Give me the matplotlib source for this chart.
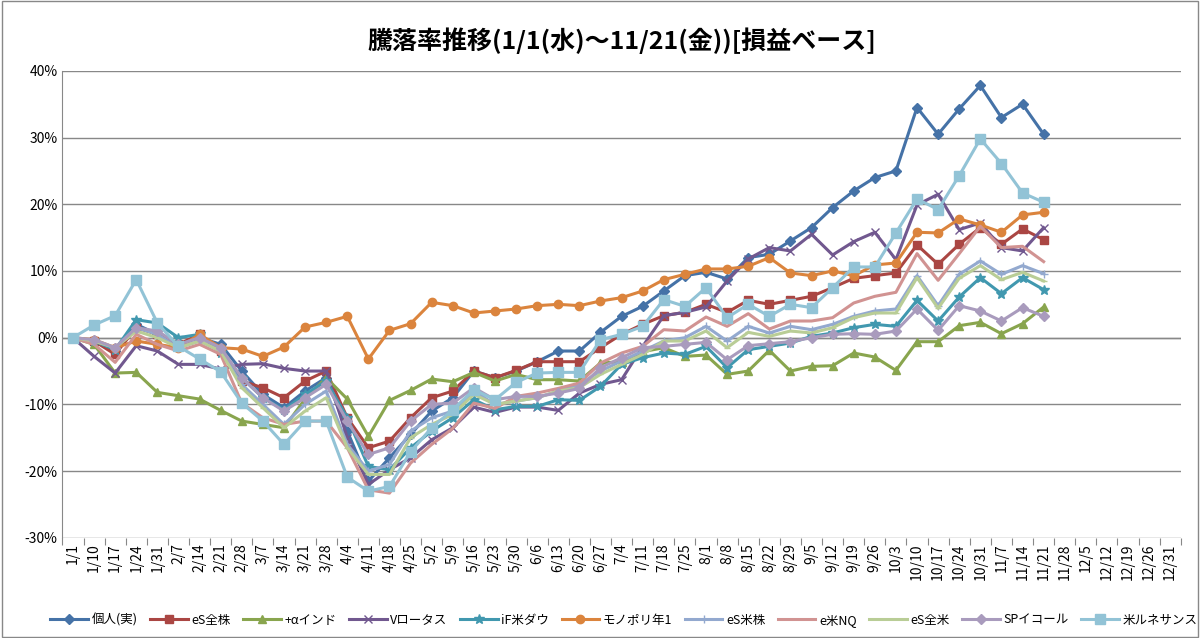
import matplotlib.pyplot as plt
import numpy as np

plt.rcParams['font.family'] = ['Noto Sans CJK JP', 'DejaVu Sans']

dates = ['1/1', '1/10', '1/17', '1/24', '1/31', '2/7', '2/14', '2/21', '2/28', '3/7', '3/14', '3/21', '3/28',
         '4/4', '4/11', '4/18', '4/25', '5/2', '5/9', '5/16', '5/23', '5/30', '6/6', '6/13', '6/20', '6/27',
         '7/4', '7/11', '7/18', '7/25', '8/1', '8/8', '8/15', '8/22', '8/29', '9/5', '9/12', '9/19', '9/26',
         '10/3', '10/10', '10/17', '10/24', '10/31', '11/7', '11/14', '11/21', '11/28', '12/5', '12/12',
         '12/19', '12/26', '12/31']

kojin = [0, -0.5, -2, 2, 0.5, -1, 0, -1, -5, -8.5, -10.5, -8, -6, -14, -21.5, -18, -14.5, -11, -9, -5,
         -6, -5, -3.6, -2, -2, 0.8, 3.2, 4.7, 7, 9.3, 9.8, 8.8, 12, 12.5, 14.5, 16.5, 19.5, 22, 24, 25,
         34.5, 30.5, 34.3, 37.8, 33, 35, 30.5]
es_zenkabu = [0, -0.5, -2.5, 1.5, 0.5, -1, 0.5, -2, -6.5, -7.5, -9, -6.5, -5, -12, -16.5, -15.5, -12, -9, -8, -5,
              -6, -4.9, -3.6, -3.6, -3.6, -1.5, 0.5, 2, 3.3, 3.8, 5, 3.8, 5.6, 5, 5.6, 6.2, 7.5, 8.9, 9.3, 9.7,
              13.9, 11, 14, 16.5, 14, 16.3, 14.7]
alpha_india = [0, -1, -5.3, -5.2, -8.2, -8.7, -9.2, -10.9, -12.5, -13, -13.5, -9.2, -6, -9.2, -14.8, -9.4, -7.9, -6.2, -6.6, -5.2,
               -6.5, -5.5, -6.3, -6.3, -6.5, -3.8, -3.6, -2.1, -1.5, -2.8, -2.6, -5.5, -5, -1.9, -5, -4.3, -4.2, -2.3, -2.9, -4.9,
               -0.6, -0.6, 1.8, 2.3, 0.6, 2.1, 4.6]
v_lotus = [0, -2.8, -5.3, -1.2, -2, -4, -4, -4.7, -4, -3.9, -4.6, -5, -5, -15, -22, -19.8, -18, -15.3, -13.5, -10.4,
           -11.2, -10.4, -10.4, -10.9, -8.3, -7, -6.3, -1.3, 3.3, 3.8, 4.6, 8.5, 11.8, 13.5, 13, 15.5, 12.4, 14.4, 15.8, 11.7,
           19.9, 21.5, 16.2, 17.2, 13.5, 13, 16.5]
if_dow = [0, -0.5, -1.8, 2.7, 2.2, 0, 0.5, -2.3, -6, -9, -10.8, -8.5, -6.5, -12, -19.3, -19.8, -16.5, -14, -12, -9.3,
          -10.8, -10.3, -10.3, -9.3, -9.4, -7.3, -4, -3, -2.3, -2.5, -1.3, -4.5, -1.8, -1.3, -0.8, 0.2, 0.7, 1.5, 2, 1.7,
          5.6, 2.5, 6.1, 9, 6.6, 9, 7.2]
monopoly = [0, -0.3, -1.5, -0.5, -1, -1.5, 0.5, -1.5, -1.7, -2.8, -1.4, 1.6, 2.3, 3.2, -3.2, 1.1, 2.1, 5.3, 4.8, 3.7,
            4, 4.3, 4.8, 5, 4.8, 5.5, 6, 7, 8.7, 9.5, 10.3, 10.3, 10.7, 12, 9.7, 9.3, 10, 9.3, 10.9, 11.2,
            15.8, 15.7, 17.8, 16.9, 15.8, 18.4, 18.8]
es_beikabu = [0, -0.5, -1.5, 1.5, 0.5, -1.5, -0.5, -2, -7, -10, -13, -10, -8, -16, -20, -19, -14, -12, -11, -8,
              -10, -9.5, -9, -8, -7, -5, -3.5, -2, -0.5, 0, 1.7, -0.5, 1.7, 0.7, 1.7, 1.2, 2, 3.2, 4, 4.3,
              9.3, 4.8, 9.5, 11.5, 9.5, 10.8, 9.6]
e_nq = [0, -1, -3.7, 0.5, -1, -2, -1, -2.5, -9.8, -12, -13, -12.5, -12.5, -16.5, -22.8, -23.3, -18.8, -16, -13.6, -9.8,
        -10.6, -8.8, -8.3, -7.6, -6.8, -3.8, -2.3, -1.3, 1.2, 1, 3.1, 1.7, 3.6, 1.3, 2.5, 2.5, 3, 5.2, 6.2, 6.8,
        12.6, 8.6, 12.6, 16.7, 13.5, 13.7, 11.4]
es_zenbei = [0, -0.5, -1.5, 1, 0, -1.5, -0.5, -2, -7.5, -10.5, -13.5, -11, -9, -16.5, -20.5, -20.5, -15, -13, -11.5, -8.5,
             -10, -9.5, -9, -8, -7.5, -5.5, -4, -2.5, -0.5, -0.5, 1, -1.5, 0.8, 0.2, 1, 0.7, 1.5, 3, 3.7, 3.7,
             9, 4.4, 8.9, 10.8, 8.7, 9.8, 8.5]
sp_equal = [0, -0.3, -1.5, 1.5, 1, -1, 0, -1.5, -6, -9, -11, -9, -7, -12.5, -17.5, -16.5, -12.5, -10, -9.8, -7.5,
            -9.3, -8.8, -8.8, -8.3, -7.6, -4.5, -3, -1.5, -1.3, -1, -0.7, -3.3, -1.2, -0.9, -0.6, 0, 0.5, 0.6, 0.5, 1,
            4.3, 1.1, 4.8, 4, 2.5, 4.5, 3.2]
renaissance = [0, 1.9, 3.3, 8.7, 2.2, -1.3, -3.2, -5.1, -9.8, -12.5, -16, -12.5, -12.5, -20.9, -23, -22.3, -17.1, -13.5, -10.8, -7.8,
               -9.3, -6.7, -5.3, -5.2, -5.2, -0.3, 0.5, 1.7, 5.7, 4.7, 7.5, 3, 5, 3.2, 5, 4.5, 7.5, 10.6, 10.6, 15.7,
               20.8, 19.2, 24.3, 29.8, 26.1, 21.7, 20.3]

series = [
    ('個人(実)', kojin, '#4572A7', 'D', 5),
    ('eS全株', es_zenkabu, '#AA4643', 's', 6),
    ('+αインド', alpha_india, '#89A54E', '^', 6),
    ('Vロータス', v_lotus, '#71588F', 'x', 6),
    ('iF米ダウ', if_dow, '#4198AF', '*', 7),
    ('モノポリ年1', monopoly, '#DB843D', 'o', 6),
    ('eS米株', es_beikabu, '#93A9CF', '+', 6),
    ('e米NQ', e_nq, '#D19392', None, 0),
    ('eS全米', es_zenbei, '#B9CD96', '_', 5),
    ('SPイコール', sp_equal, '#A99BBD', 'D', 5),
    ('米ルネサンス', renaissance, '#92C3D6', 's', 7),
]

fig = plt.figure(figsize=(12, 6.38), dpi=100)
ax = fig.add_axes([0.052, 0.157, 0.932, 0.732])
for name, vals, col, mk, ms in series:
    x = np.arange(len(vals))
    ax.plot(x, np.array(vals) / 100, color=col, marker=mk, markersize=ms, lw=2.2, label=name)

yt = np.arange(-0.3, 0.41, 0.1)
ax.set_xlim(-0.5, len(dates) - 0.5)
ax.set_ylim(-0.3, 0.4)
ax.set_yticks(yt)
ax.set_yticklabels(['{:.0f}%'.format(v * 100) for v in yt], fontsize=10)
ax.set_xticks(np.arange(len(dates)))
ax.set_xticklabels(dates, rotation=90, fontsize=10)
ax.tick_params(axis='x', length=0, pad=4)
ax.tick_params(axis='y', length=0)
ax.grid(True, axis='y', color='#888888', lw=1)
for s in ['top', 'right', 'bottom']:
    ax.spines[s].set_visible(False)
ax.spines['left'].set_color('#888888')
ax.axhline(0, color='#888888', lw=1, zorder=0.5)
ax.set_axisbelow(True)

# small category ticks on the zero line
sec = ax.secondary_xaxis(0)
sec.set_xticks(np.arange(len(dates) + 1) - 0.5)
sec.set_xticklabels([])
sec.tick_params(direction='out', length=5, color='#888888')
sec.spines['bottom'].set_visible(False)

ax.set_title('騰落率推移(1/1(水)～11/21(金))[損益ベース]', fontsize=18, fontweight='bold', pad=16)
fig.legend(loc='lower center', ncol=11, fontsize=9, frameon=False, bbox_to_anchor=(0.52, 0.0),
           handlelength=3, columnspacing=1.0, handletextpad=0.3)
fig.patches.append(plt.Rectangle((0.002, 0.002), 0.996, 0.996, transform=fig.transFigure,
                                 fill=False, edgecolor='#888888', lw=1))
fig.savefig('out.png')
